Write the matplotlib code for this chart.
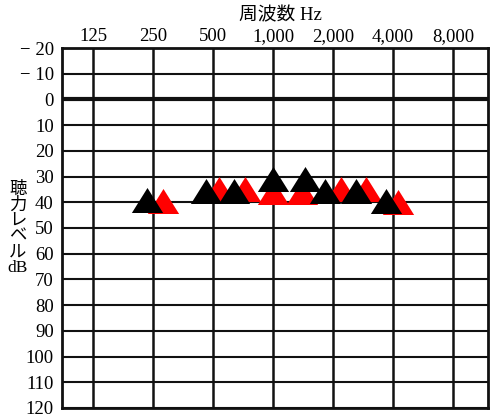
import numpy as np
import matplotlib.pyplot as plt
from matplotlib.markers import MarkerStyle

# 周波数の目盛り
freq_ticks = [125, 250, 500, 1000, 2000, 4000, 8000]
freq_labels = ['125', '250', '500', '1,000', '2,000', '4,000', '8,000']
level_ticks = list(range(-20, 121, 10))
level_labels = ['− 20', '− 10'] + [str(v) for v in range(0, 121, 10)]

# 黒の三角 (読み取り値)
black_freq = [232, 461, 637, 1000, 1447, 1824, 2608, 3688]
black_db = [39, 35.5, 35.5, 31, 31, 35.5, 35.5, 39.5]
# 赤の三角 (読み取り値)
red_freq = [281, 536, 724, 1000, 1398, 2193, 2928, 4238]
red_db = [39.5, 35, 35, 36, 36, 35, 35, 40]

serif = ['Liberation Serif', 'Noto Sans CJK JP']

fig = plt.figure(figsize=(5, 4.2), dpi=100)
ax = fig.add_axes([0.124, 0.0286, 0.852, 0.8571])

ax.set_xscale('log', base=2)
ax.set_xlim(87.4, 11985)
ax.set_ylim(120, -20)

for f in freq_ticks:
    ax.axvline(f, color='#111111', lw=1.8, zorder=1)
for v in level_ticks:
    ax.axhline(v, color='#111111', lw=3.0 if v == 0 else 1.5, zorder=1)

tri = MarkerStyle([(0, 0.8), (-1, -0.8), (1, -0.8), (0, 0.8)])
ax.plot(red_freq, red_db, linestyle='none', marker=tri, ms=22.5,
        color='#ff0000', mec='none', zorder=3)
ax.plot(black_freq, black_db, linestyle='none', marker=tri, ms=22.5,
        color='#000000', mec='none', zorder=4)

ax.xaxis.tick_top()
ax.set_xticks(freq_ticks)
ax.set_xticklabels(freq_labels, fontfamily=serif, fontsize=13.5)
ax.minorticks_off()
ax.set_yticks(level_ticks)
ax.set_yticklabels(level_labels, fontfamily=serif, fontsize=13.5)
ax.tick_params(axis='x', length=0, pad=2)
ax.tick_params(axis='y', length=0, pad=6)

for s in ax.spines.values():
    s.set_linewidth(2)
    s.set_color('#111111')

fig.text(0.56, 0.963, '周波数 Hz', ha='center', va='center',
         fontfamily=serif, fontsize=13.5)
fig.text(0.036, 0.455, '聴\n力\nレ\nベ\nル\ndB', ha='center', va='center',
         fontfamily=serif, fontsize=12.5, linespacing=0.95)

fig.savefig('out.png', dpi=100)
